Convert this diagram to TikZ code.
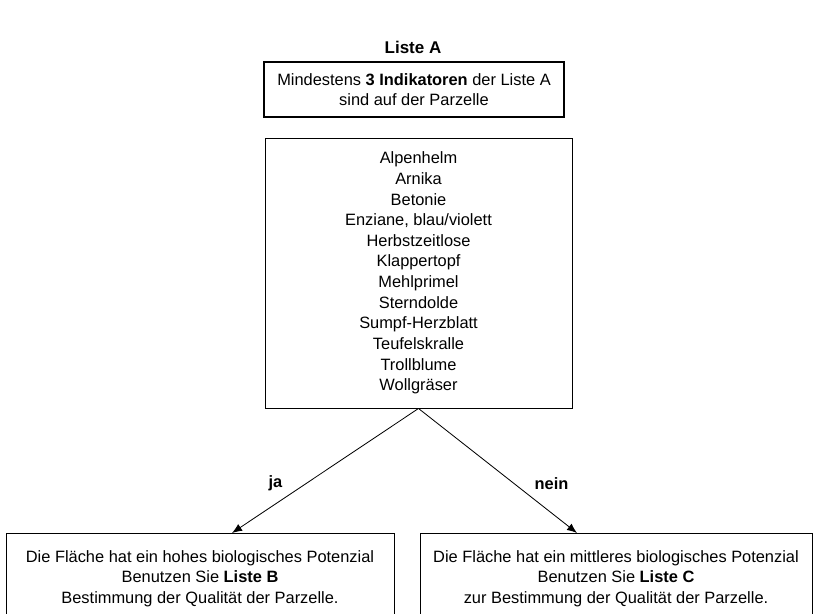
\documentclass[tikz,border=0pt]{standalone}
\usepackage{fontspec}
\setmainfont{Liberation Sans}
\usetikzlibrary{arrows.meta}

\begin{document}
\begin{tikzpicture}[
  box/.style={rectangle, draw, line width=0.8pt, align=center, font=\fontsize{14}{17.6}\selectfont},
  lab/.style={inner sep=0pt, font=\fontsize{14}{16}\selectfont\bfseries},
  arrow/.style={-{Latex[length=3mm,width=2.4mm]}, line width=0.7pt}
]
\useasboundingbox (0,0) rectangle (24.57,-18.39);
\node[font=\fontsize{14.5}{16}\selectfont\bfseries] (titel) at (12.39,-1.41) {Liste A};
\node[box, line width=2.4pt, minimum width=9cm, minimum height=1.65cm] (regel) at (12.42,-2.685) {Mindestens \textbf{3 Indikatoren} der Liste A\\ sind auf der Parzelle};
\node[box, minimum width=9.21cm, minimum height=8.1cm] (arten) at (12.555,-8.19) {Alpenhelm\\ Arnika\\ Betonie\\ Enziane, blau/violett\\ Herbstzeitlose\\ Klappertopf\\ Mehlprimel\\ Sterndolde\\ Sumpf-Herzblatt\\ Teufelskralle\\ Trollblume\\ Wollgräser};
\node[box, anchor=north, minimum width=11.64cm, minimum height=2.7cm] (hoch) at (6.0,-15.99) {Die Fläche hat ein hohes biologisches Potenzial\\ Benutzen Sie \textbf{Liste B}\\ Bestimmung der Qualität der Parzelle.};
\node[box, anchor=north, minimum width=11.76cm, minimum height=2.7cm] (mittel) at (18.48,-15.99) {Die Fläche hat ein mittleres biologisches Potenzial\\ Benutzen Sie \textbf{Liste C}\\ zur Bestimmung der Qualität der Parzelle.};
\coordinate (jaend) at (6.96,-15.99);
\coordinate (neinend) at (17.31,-15.99);

\draw[arrow] (arten.south) -- node[pos=0.6, left=0.72cm, lab]{ja} (jaend);
\draw[arrow] (arten.south) -- node[pos=0.6, right=0.62cm, lab]{nein} (neinend);
\end{tikzpicture}
\end{document}
